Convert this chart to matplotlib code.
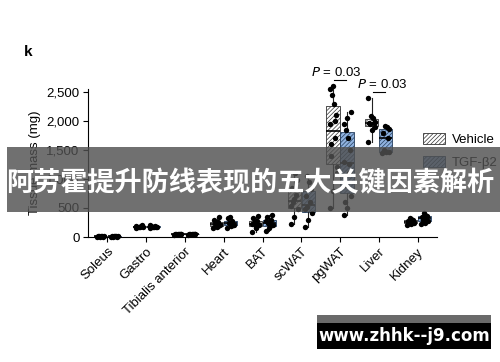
import numpy as np
import matplotlib
matplotlib.use("Agg")
import matplotlib.pyplot as plt
from matplotlib.patches import Patch, Rectangle

plt.rcParams['font.family'] = ['Liberation Sans', 'DejaVu Sans']
plt.rcParams['hatch.linewidth'] = 0.5

tissues = ["Soleus", "Gastro", "Tibialis anterior", "Heart", "BAT",
           "scWAT", "pgWAT", "Liver", "Kidney"]

vehicle = [
    [5, 8, 10, 12, 9, 11, 7, 10],
    [150, 165, 175, 180, 185, 190, 200, 170],
    [40, 45, 50, 55, 48, 52, 58, 46],
    [150, 180, 200, 220, 260, 300, 340, 190, 230],
    [90, 150, 200, 240, 280, 330, 370, 180, 260, 220],
    [230, 350, 480, 600, 720, 850, 980, 1100, 650, 540],
    [500, 800, 1100, 1400, 1700, 1950, 2100, 2300, 2450, 2550, 2600, 1200, 1600, 2000],
    [1640, 1850, 1900, 1950, 1960, 1970, 1990, 2050, 2080, 2400],
    [200, 220, 240, 250, 260, 270, 290, 310, 330],
]
tgfb2 = [
    [6, 9, 11, 8, 10, 12, 7, 9],
    [155, 170, 178, 185, 192, 200, 165, 180],
    [42, 47, 53, 56, 50, 49, 60, 45],
    [160, 190, 210, 250, 280, 320, 200, 240, 350],
    [100, 160, 210, 250, 300, 350, 380, 190, 230, 270],
    [170, 300, 420, 520, 600, 700, 820, 950, 1050, 480],
    [380, 500, 700, 900, 1100, 1300, 1500, 1700, 1850, 1950, 2050, 2150, 600, 1250],
    [1440, 1460, 1470, 1500, 1700, 1800, 1870, 1900, 1910],
    [220, 250, 280, 300, 320, 340, 360, 380, 415],
]
series_names = ["Vehicle", "TGF-\u03b22"]
yticks = [0, 500, 1000, 1500, 2000, 2500]
ytick_labels = ["0", "500", "1,000", "1,500", "2,000", "2,500"]
pvalue_tissues = ["pgWAT", "Liver"]
pvalue_text = ["$\\it{P}$ = 0.03", "$\\it{P}$ = 0.03"]
pvalue_levels = [2710, 2500]
pvalue_text_shift = [-0.1, 0.08]

veh_face = "white"
tgf_face = "#8fb2df"
HATCH = '////////'

fig = plt.figure(figsize=(5, 3.62), dpi=100)
ax = fig.add_axes([0.176, 0.3453, 0.698, 0.4102])

x = np.arange(len(tissues))
off = 0.18
w = 0.34
jit = np.array([-0.09, 0.0, 0.09, -0.045, 0.045, -0.07, 0.07, 0.02, -0.02])

for data, sign, face, edge in [(vehicle, -1, veh_face, "#333333"),
                               (tgfb2, 1, tgf_face, "#27405f")]:
    pos = x + sign * off
    bp = ax.boxplot(data, positions=pos, widths=w, whis=(0, 100),
                    patch_artist=True, showcaps=False, showfliers=False,
                    manage_ticks=False)
    for b in bp['boxes']:
        b.set_facecolor(face)
        b.set_edgecolor(edge)
        b.set_hatch(HATCH)
        b.set_linewidth(0.6)
    for wl in bp['whiskers']:
        wl.set_color('#222222'); wl.set_linewidth(0.8)
    for m in bp['medians']:
        m.set_color('black'); m.set_linewidth(1.2)
    for p, vals in zip(pos, data):
        vals = np.asarray(vals)
        xs = p + np.resize(jit, len(vals))
        ax.scatter(xs, vals, s=15, color='black', zorder=3, clip_on=False,
                   linewidths=0)

for t, txt, lev, sh in zip(pvalue_tissues, pvalue_text, pvalue_levels,
                           pvalue_text_shift):
    i = tissues.index(t)
    ax.plot([i - 0.15, i + 0.15], [lev, lev], color='black', lw=0.8,
            clip_on=False)
    ax.text(i + sh, lev + 15, txt, ha='center', va='bottom', fontsize=9.5,
            clip_on=False)

ax.set_xlim(-0.5, len(tissues) - 0.5)
ax.set_ylim(0, 2560)
ax.set_yticks(yticks)
ax.set_yticklabels(ytick_labels, fontsize=9.5)
ax.set_xticks(x)
ax.set_xticklabels(tissues, rotation=45, ha='right', rotation_mode='anchor',
                   fontsize=9.5)
ax.tick_params(length=3.5, width=0.8, pad=2.5)
ax.spines['top'].set_visible(False)
ax.spines['right'].set_visible(False)
ax.set_ylabel("Tissue mass (mg)", fontsize=9.5, labelpad=4)

handles = [Patch(facecolor=veh_face, edgecolor='#333333', hatch=HATCH, lw=0.6),
           Patch(facecolor=tgf_face, edgecolor='#27405f', hatch=HATCH, lw=0.6)]
fig.legend(handles, series_names, loc='upper left',
           bbox_to_anchor=(0.846, 0.632), frameon=False, fontsize=9.5,
           handlelength=1.7, handleheight=0.9, labelspacing=0.75,
           handletextpad=0.5, borderaxespad=0, borderpad=0)

fig.text(0.048, 0.855, "k", fontsize=11, fontweight='bold', ha='left',
         va='center')

# overlay banner
fig.patches.append(Rectangle((7 / 500, 1 - 212 / 362), 493 / 500, 65 / 362,
                             transform=fig.transFigure, facecolor='#505050',
                             alpha=0.82, edgecolor='none', zorder=10))
fig.text(0.5, 1 - 183 / 362, "阿劳霍提升防线表现的五大关键因素解析",
         family=['Noto Sans CJK SC', 'DejaVu Sans'], fontweight='bold',
         fontsize=19.5, color='white', ha='center', va='center', zorder=11)

# watermark
fig.patches.append(Rectangle((317 / 500, 1 - 323 / 362), 174 / 500, 8 / 362,
                             transform=fig.transFigure, facecolor='#6a6a6a',
                             edgecolor='none', zorder=10))
fig.patches.append(Rectangle((317 / 500, 1 - 349 / 362), 174 / 500, 26 / 362,
                             transform=fig.transFigure, facecolor='black',
                             edgecolor='none', zorder=10))
fig.text(404 / 500, 1 - 336 / 362, "www.zhhk--j9.com", color='white',
         fontweight='bold', fontsize=12, ha='center', va='center', zorder=11,
         family=['DejaVu Sans'])

fig.savefig("out.png", dpi=100)
